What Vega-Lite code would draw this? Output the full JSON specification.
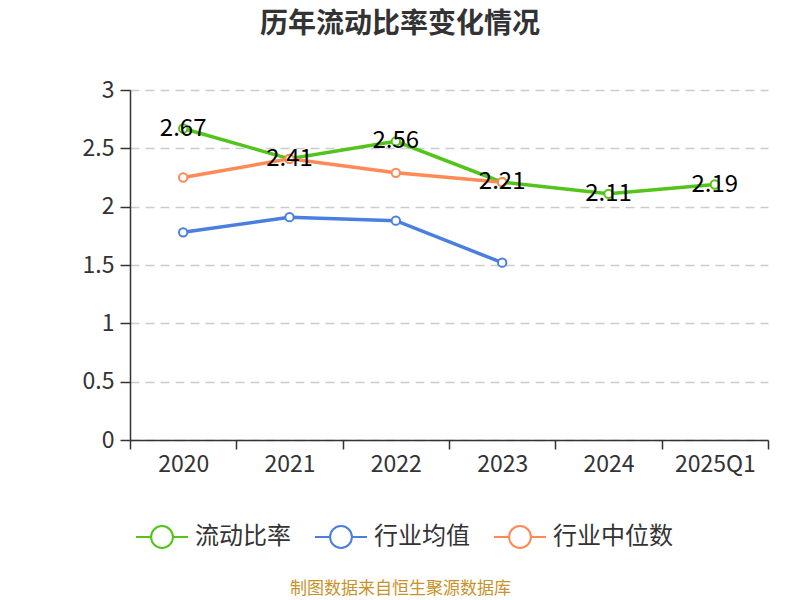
{
  "$schema": "https://vega.github.io/schema/vega-lite/v6.json",
  "width": 638,
  "height": 350,
  "autosize": {"type": "none"},
  "padding": {"left": 130, "top": 90, "right": 32, "bottom": 160},
  "background": "white",
  "title": {
    "text": "历年流动比率变化情况",
    "fontSize": 28,
    "fontWeight": "bold",
    "color": "#333333",
    "anchor": "middle",
    "frame": "group",
    "dx": -49,
    "offset": 40
  },
  "data": {
    "values": [
      {"year": "2020", "series": "流动比率", "value": 2.67},
      {"year": "2021", "series": "流动比率", "value": 2.41},
      {"year": "2022", "series": "流动比率", "value": 2.56},
      {"year": "2023", "series": "流动比率", "value": 2.21},
      {"year": "2024", "series": "流动比率", "value": 2.11},
      {"year": "2025Q1", "series": "流动比率", "value": 2.19},
      {"year": "2020", "series": "行业均值", "value": 1.78},
      {"year": "2021", "series": "行业均值", "value": 1.91},
      {"year": "2022", "series": "行业均值", "value": 1.88},
      {"year": "2023", "series": "行业均值", "value": 1.52},
      {"year": "2020", "series": "行业中位数", "value": 2.25},
      {"year": "2021", "series": "行业中位数", "value": 2.41},
      {"year": "2022", "series": "行业中位数", "value": 2.29},
      {"year": "2023", "series": "行业中位数", "value": 2.21}
    ]
  },
  "encoding": {
    "x": {
      "field": "year",
      "type": "ordinal",
      "sort": null,
      "bandPosition": 0.5,
      "scale": {"type": "band", "paddingInner": 0, "paddingOuter": 0},
      "axis": {
        "title": "制图数据来自恒生聚源数据库",
        "titleColor": "#c8922a",
        "titleFontSize": 17,
        "titleFontWeight": "normal",
        "titleFont": "Noto Sans CJK SC",
        "titleX": 270,
        "titleY": 148,
        "titleAlign": "center",
        "titleBaseline": "middle",
        "labelAngle": 0,
        "labelFontSize": 23,
        "labelColor": "#333333",
        "labelFont": "Noto Sans CJK SC",
        "labelPadding": 4,
        "domainColor": "#333333",
        "domainWidth": 1.5,
        "tickColor": "#333333",
        "tickWidth": 1.5,
        "tickSize": 9,
        "tickBand": "extent",
        "grid": false
      }
    },
    "y": {
      "field": "value",
      "type": "quantitative",
      "scale": {"domain": [0, 3]},
      "axis": {
        "title": null,
        "values": [0, 0.5, 1, 1.5, 2, 2.5, 3],
        "format": "~g",
        "labelFontSize": 23,
        "labelColor": "#333333",
        "labelFont": "Noto Sans CJK SC",
        "labelPadding": 6,
        "domainColor": "#333333",
        "domainWidth": 1.5,
        "tickColor": "#333333",
        "tickWidth": 1.5,
        "tickSize": 10,
        "grid": true,
        "gridColor": "#cccccc",
        "gridDash": [9, 6],
        "gridWidth": 1.5
      }
    }
  },
  "layer": [
    {
      "mark": {
        "type": "line",
        "strokeWidth": 3.5,
        "point": {"filled": false, "fill": "white", "size": 70, "strokeWidth": 2}
      },
      "encoding": {
        "color": {
          "field": "series",
          "type": "nominal",
          "scale": {
            "domain": ["流动比率", "行业均值", "行业中位数"],
            "range": ["#52c41a", "#4a7fe0", "#ff8a55"]
          },
          "legend": {
            "title": null,
            "orient": "none",
            "direction": "horizontal",
            "legendX": 5,
            "legendY": 420,
            "symbolType": "M-1,0L-0.42,0M0.42,0L1,0M-0.42,0A0.42,0.42,0,1,1,0.42,0A0.42,0.42,0,1,1,-0.42,0Z",
            "symbolSize": 2704,
            "symbolStrokeWidth": 2,
            "symbolFillColor": "white",
            "labelFontSize": 24,
            "labelColor": "#333333",
            "labelFont": "Noto Sans CJK SC",
            "labelOffset": 6,
            "columnPadding": 20
          }
        },
        "order": {"field": "year"}
      }
    },
    {
      "transform": [{"filter": "datum.series === '流动比率'"}],
      "mark": {
        "type": "text",
        "fontSize": 24,
        "font": "Noto Sans CJK SC",
        "color": "#000000",
        "align": "center",
        "baseline": "middle"
      },
      "encoding": {
        "text": {"field": "value", "type": "quantitative", "format": ".2f"}
      }
    }
  ],
  "config": {
    "view": {"stroke": null},
    "font": "Noto Sans CJK SC"
  }
}
